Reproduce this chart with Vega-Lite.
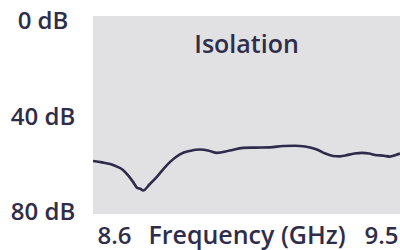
{
  "$schema": "https://vega.github.io/schema/vega-lite/v6.json",
  "width": 307,
  "height": 198,
  "autosize": {"type": "none"},
  "padding": {"left": 93, "top": 16, "right": 0, "bottom": 36},
  "background": "white",
  "config": {
    "view": {"fill": "#e1e1e3", "stroke": null},
    "axis": {
      "labelFont": "Open Sans",
      "labelFontSize": 24,
      "labelFontWeight": 600,
      "labelColor": "#302d4a",
      "titleFont": "Open Sans",
      "titleFontSize": 25,
      "titleFontWeight": 600,
      "titleColor": "#302d4a",
      "grid": false,
      "ticks": false,
      "tickSize": 0,
      "domain": false
    }
  },
  "layer": [
    {
      "data": {
        "values": [
          {"freq_ghz": 8.529, "isolation_db": 58.4},
          {"freq_ghz": 8.56, "isolation_db": 59.0},
          {"freq_ghz": 8.587, "isolation_db": 59.7},
          {"freq_ghz": 8.61, "isolation_db": 60.8},
          {"freq_ghz": 8.630, "isolation_db": 62.2},
          {"freq_ghz": 8.648, "isolation_db": 64.6},
          {"freq_ghz": 8.664, "isolation_db": 67.2},
          {"freq_ghz": 8.678, "isolation_db": 69.7},
          {"freq_ghz": 8.690, "isolation_db": 70.2},
          {"freq_ghz": 8.698, "isolation_db": 70.8},
          {"freq_ghz": 8.72, "isolation_db": 68.2},
          {"freq_ghz": 8.745, "isolation_db": 65.0},
          {"freq_ghz": 8.77, "isolation_db": 61.3},
          {"freq_ghz": 8.789, "isolation_db": 58.8},
          {"freq_ghz": 8.822, "isolation_db": 55.6},
          {"freq_ghz": 8.855, "isolation_db": 54.2},
          {"freq_ghz": 8.890, "isolation_db": 53.6},
          {"freq_ghz": 8.92, "isolation_db": 54.1},
          {"freq_ghz": 8.947, "isolation_db": 55.0},
          {"freq_ghz": 8.99, "isolation_db": 54.0},
          {"freq_ghz": 9.035, "isolation_db": 52.9},
          {"freq_ghz": 9.08, "isolation_db": 52.8},
          {"freq_ghz": 9.126, "isolation_db": 52.7},
          {"freq_ghz": 9.170, "isolation_db": 52.1},
          {"freq_ghz": 9.21, "isolation_db": 52.0},
          {"freq_ghz": 9.244, "isolation_db": 52.3},
          {"freq_ghz": 9.284, "isolation_db": 53.6},
          {"freq_ghz": 9.31, "isolation_db": 55.2},
          {"freq_ghz": 9.338, "isolation_db": 56.3},
          {"freq_ghz": 9.36, "isolation_db": 56.5},
          {"freq_ghz": 9.379, "isolation_db": 56.1},
          {"freq_ghz": 9.41, "isolation_db": 55.3},
          {"freq_ghz": 9.436, "isolation_db": 55.0},
          {"freq_ghz": 9.46, "isolation_db": 55.3},
          {"freq_ghz": 9.480, "isolation_db": 55.9},
          {"freq_ghz": 9.51, "isolation_db": 56.2},
          {"freq_ghz": 9.530, "isolation_db": 56.6},
          {"freq_ghz": 9.55, "isolation_db": 55.9},
          {"freq_ghz": 9.564, "isolation_db": 55.3}
        ]
      },
      "mark": {"type": "line", "color": "#2e2b4b", "strokeWidth": 2.6, "interpolate": "monotone", "clip": true},
      "encoding": {
        "x": {
          "field": "freq_ghz",
          "type": "quantitative",
          "scale": {"domain": [8.529, 9.564], "nice": false, "zero": false},
          "axis": {
            "values": [8.6, 9.5],
            "format": ".1f",
            "labelBaseline": "alphabetic",
            "labelAlign": "center",
            "labelPadding": 29,
            "labelFlush": false,
            "title": "Frequency (GHz)",
            "titleBaseline": "alphabetic",
            "titleY": 29.5,
            "titlePadding": 0
          }
        },
        "y": {
          "field": "isolation_db",
          "type": "quantitative",
          "scale": {"domain": [-2.5, 80.7], "nice": false, "zero": false, "reverse": true},
          "axis": {
            "values": [0, 40, 80],
            "labelExpr": "datum.value + ' dB'",
            "labelAlign": "center",
            "labelBaseline": "middle",
            "labelPadding": 50.5,
            "labelFlush": false,
            "labelOverlap": false,
            "title": null
          }
        }
      }
    },
    {
      "data": {"values": [{"label": "Isolation", "freq_ghz": 9.0466, "isolation_db": 13.2}]},
      "mark": {
        "type": "text",
        "font": "Open Sans",
        "fontSize": 25,
        "fontWeight": 600,
        "color": "#302d4a",
        "align": "center",
        "baseline": "alphabetic"
      },
      "encoding": {
        "x": {"field": "freq_ghz", "type": "quantitative"},
        "y": {"field": "isolation_db", "type": "quantitative"},
        "text": {"field": "label", "type": "nominal"}
      }
    }
  ]
}
